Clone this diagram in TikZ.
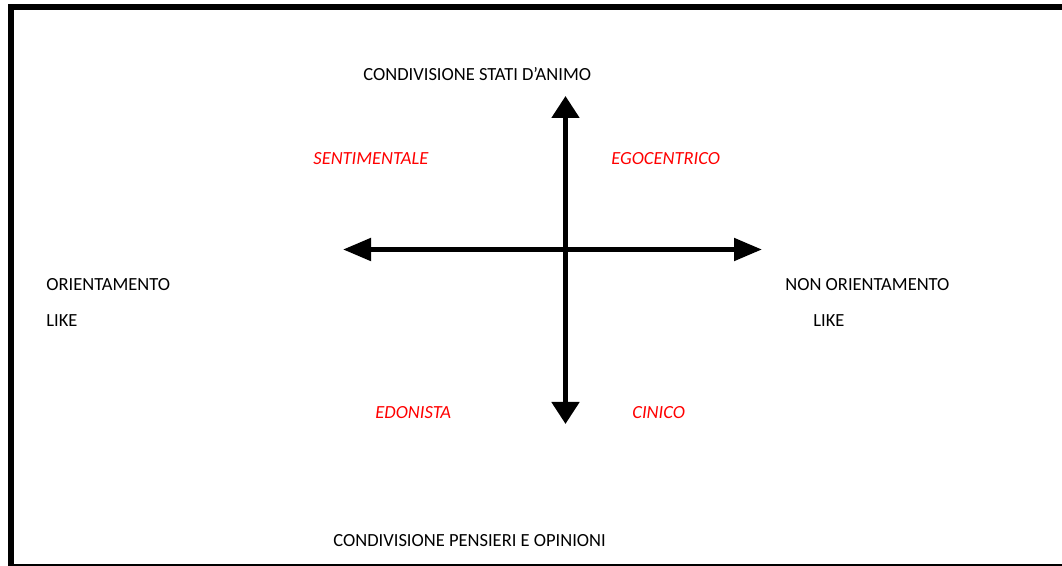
\documentclass[tikz,border=0pt]{standalone}
\usepackage{fontspec}
\setmainfont{Carlito}
\usetikzlibrary{arrows.meta}
\definecolor{labred}{RGB}{255,0,0}
\tikzset{
  lbl/.style={anchor=base west, inner sep=0pt, font=\fontsize{9.25}{11}\selectfont, text=black},
  type/.style={lbl, text=labred, font=\fontsize{9.25}{11}\selectfont\itshape},
  haxis/.style={line width=2.5pt, {Triangle[length=14pt,width=11pt]}-{Triangle[length=14pt,width=11pt]}},
  vaxis/.style={line width=2.5pt, {Triangle[length=11pt,width=13.5pt]}-{Triangle[length=11pt,width=13.5pt]}},
  frame/.style={line width=3pt, line cap=rect},
}
\begin{document}
\begin{tikzpicture}[x=0.5pt,y=-0.5pt]
\useasboundingbox (0,0) rectangle (1062,566);
% frame
\coordinate (fbl) at (11,566);
\coordinate (ftl) at (11,7);
\coordinate (ftr) at (1063,7);
\coordinate (bbl) at (11,565);
\coordinate (bbr) at (1063,565);
\draw[frame] (fbl) -- (ftl) -- (ftr);
\draw[line width=0.9pt] (bbl) -- (bbr);
% axes
\coordinate (L) at (343,249.5);
\coordinate (R) at (762,249.5);
\coordinate (T) at (565.5,96);
\coordinate (B) at (565.5,424);
\draw[haxis] (L) -- (R);
\draw[vaxis] (T) -- (B);
% labels
\node[lbl] (top) at (363,81) {CONDIVISIONE STATI D’ANIMO};
\node[lbl] (bot) at (333,547) {CONDIVISIONE PENSIERI E OPINIONI};
\node[lbl] (left1) at (46,291) {ORIENTAMENTO};
\node[lbl] (left2) at (46,327) {LIKE};
\node[lbl] (right1) at (785,291) {NON ORIENTAMENTO};
\node[lbl] (right2) at (813,327) {LIKE};
\node[type] (senti) at (313,165) {SENTIMENTALE};
\node[type] (ego) at (611,165) {EGOCENTRICO};
\node[type] (edo) at (375,419) {EDONISTA};
\node[type] (cin) at (632,419) {CINICO};
\end{tikzpicture}
\end{document}
